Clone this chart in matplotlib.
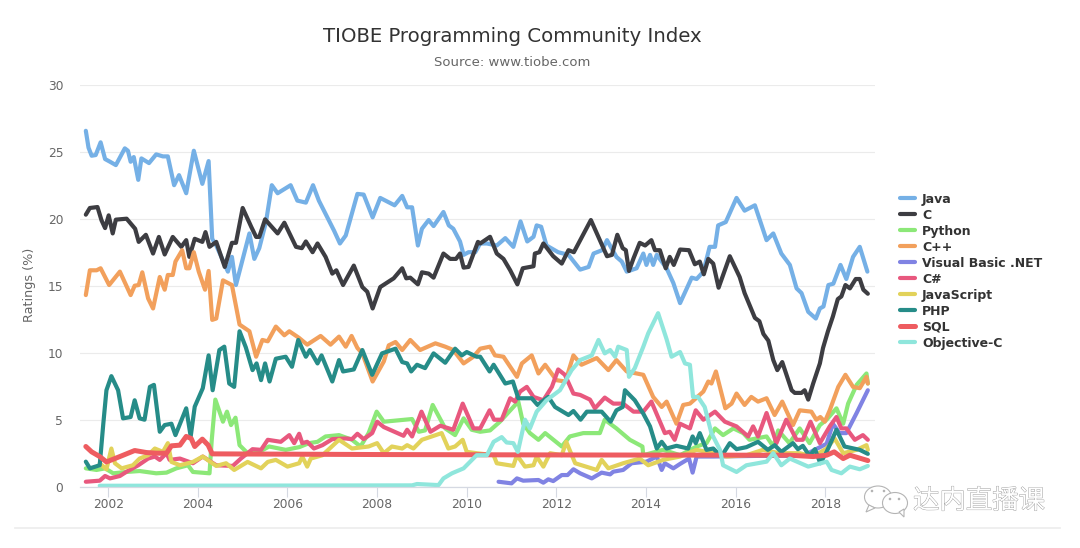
import matplotlib
matplotlib.use("Agg")
import matplotlib.patheffects as pe
import matplotlib.pyplot as plt
from matplotlib.patches import Ellipse, Polygon


TITLE = "TIOBE Programming Community Index"
SUBTITLE = "Source: www.tiobe.com"
Y_LABEL = "Ratings (%)"
X_TICKS = [2002, 2004, 2006, 2008, 2010, 2012, 2014, 2016, 2018]
Y_TICKS = [0, 5, 10, 15, 20, 25, 30]

# (year, rating) pairs
JAVA = [(2001.5,26.56),(2001.56,25.3),(2001.63,24.7),(2001.72,24.75),(2001.83,25.7),(2001.93,24.45),(2002.04,24.25),(2002.17,24.0),
        (2002.37,25.25),(2002.44,25.07),(2002.5,24.25),(2002.57,24.6),(2002.67,22.9),(2002.74,24.5),(2002.91,24.15),(2003.07,24.8),
        (2003.22,24.65),(2003.33,24.65),(2003.47,22.5),(2003.58,23.25),(2003.74,21.9),(2003.91,25.07),(2004.1,22.6),(2004.24,24.3),
        (2004.32,18.5),(2004.41,18),(2004.67,16.05),(2004.76,17.15),(2004.85,15.05),(2005.15,18.9),(2005.26,17),(2005.37,17.8),
        (2005.52,19.75),(2005.65,22.5),(2005.78,21.9),(2006.07,22.5),(2006.22,21.35),(2006.41,21.2),(2006.57,22.5),(2006.7,21.35),
        (2007.04,19.1),(2007.17,18.15),(2007.3,18.75),(2007.56,21.85),(2007.7,21.8),(2007.9,20.1),(2008.07,21.55),(2008.39,21),
        (2008.56,21.7),(2008.67,20.85),(2008.78,20.85),(2008.91,18),(2009,19.25),(2009.15,19.9),(2009.26,19.45),(2009.48,20.5),
        (2009.6,19.5),(2009.7,19.25),(2009.85,18.3),(2009.93,17.3),(2010.04,17.5),(2010.19,17.5),(2010.3,18.15),(2010.45,18.15),
        (2010.67,18),(2010.86,18.55),(2011.04,17.9),(2011.2,19.8),(2011.35,18.3),(2011.49,18.65),(2011.56,19.5),(2011.66,19.4),
        (2011.78,18),(2012.04,17.5),(2012.27,17.3),(2012.53,16.2),(2012.72,16.4),(2012.83,17.4),(2013.02,17.65),(2013.13,18.4),
        (2013.34,17.15),(2013.46,16.8),(2013.57,16.05),(2013.79,16.3),(2013.94,17.4),(2014.01,16.55),(2014.09,17.3),(2014.16,16.55),
        (2014.24,17.3),(2014.46,16.3),(2014.61,15.2),(2014.76,13.7),(2015.02,15.6),(2015.13,15.5),(2015.28,16.05),(2015.42,17.9),
        (2015.54,17.9),(2015.61,19.5),(2015.78,19.75),(2016.02,21.55),(2016.2,20.6),(2016.43,21),(2016.69,18.4),(2016.84,18.9),
        (2017.02,17.4),(2017.21,16.55),(2017.36,14.8),(2017.47,14.45),(2017.62,13.05),(2017.79,12.55),(2017.88,13.3),(2017.96,13.45),
        (2018.07,15.05),(2018.18,15.15),(2018.34,16.55),(2018.47,15.5),(2018.62,17.15),(2018.77,17.9),(2018.94,16.05)]

C_LANG = [(2001.5,20.3),(2001.59,20.8),(2001.76,20.87),(2001.85,19.88),(2001.93,19.3),(2002.01,20.25),(2002.1,18.9),(2002.17,19.93),
          (2002.41,20),(2002.6,19.25),(2002.68,18.27),(2002.84,18.8),(2003,17.4),(2003.13,18.64),(2003.26,17.33),(2003.44,18.64),
          (2003.63,17.9),(2003.74,18.4),(2003.81,17.15),(2003.93,18.5),(2004.1,18.27),(2004.17,19),(2004.26,17.9),(2004.41,18.27),
          (2004.6,16.4),(2004.76,18.2),(2004.85,18.2),(2005,20.8),(2005.19,19.4),(2005.3,18.64),(2005.37,18.64),(2005.5,19.95),
          (2005.78,18.9),(2005.93,19.7),(2006.19,17.9),(2006.32,17.8),(2006.41,18.3),(2006.56,17.5),(2006.67,18.15),(2006.85,17.15),
          (2007,15.9),(2007.09,16.15),(2007.24,15.05),(2007.48,16.5),(2007.67,14.9),(2007.78,14.55),(2007.9,13.3),(2008.07,14.9),
          (2008.37,15.55),(2008.56,16.3),(2008.65,15.55),(2008.74,15.6),(2008.91,15.1),(2009,16),(2009.15,15.9),(2009.26,15.6),
          (2009.48,17.4),(2009.63,17),(2009.76,17),(2009.85,17.4),(2009.93,16.35),(2010.04,16.4),(2010.25,18.27),(2010.3,18.15),
          (2010.52,18.65),(2010.67,17.4),(2010.82,17),(2010.97,16.15),(2011.13,15.1),(2011.25,16.3),(2011.49,16.45),(2011.52,17.4),
          (2011.62,17.5),(2011.71,18.15),(2011.93,17.2),(2012.12,16.65),(2012.27,17.65),(2012.39,17.5),(2012.77,19.9),(2013.13,17.2),
          (2013.24,17.3),(2013.36,18.8),(2013.48,17.8),(2013.55,17.65),(2013.62,16.1),(2013.72,17.03),(2013.86,18.2),(2013.98,18),
          (2014.12,18.4),(2014.2,17.65),(2014.31,17.65),(2014.44,16.3),(2014.53,17.15),(2014.62,16.55),(2014.76,17.7),(2014.96,17.65),
          (2015.09,16.6),(2015.2,16.8),(2015.29,15.85),(2015.39,17),(2015.5,16.65),(2015.62,14.85),(2015.87,17.2),(2016.09,15.65),
          (2016.2,14.45),(2016.43,12.6),(2016.53,12.35),(2016.62,11.4),(2016.73,10.9),(2016.84,9.45),(2016.93,8.7),(2017.04,9.3),
          (2017.25,7.2),(2017.32,7),(2017.47,7),(2017.54,7.2),(2017.62,6.5),(2017.73,7.7),(2017.88,9.2),(2017.95,10.35),
          (2018.06,11.6),(2018.17,12.7),(2018.28,14),(2018.36,14.2),(2018.45,15.05),(2018.55,14.8),(2018.68,15.5),(2018.77,15.5),
          (2018.85,14.7),(2018.95,14.4)]

PYTHON = [(2001.5,1.37),(2001.74,1.25),(2001.93,1.37),(2002.11,1),(2002.41,1.1),(2002.7,1.17),(2003.07,1),(2003.3,1.05),
          (2003.52,1.37),(2003.78,1.6),(2003.89,1.1),(2004.26,1),(2004.31,3.5),(2004.39,6.5),(2004.56,4.85),(2004.65,5.6),
          (2004.74,4.6),(2004.84,5.15),(2004.93,3.1),(2005.11,2.5),(2005.37,2.6),(2005.59,3),(2005.96,2.75),(2006.26,2.95),
          (2006.48,3.25),(2006.67,3.35),(2006.85,3.75),(2007.15,3.85),(2007.44,3.5),(2007.63,3),(2007.81,4),(2007.99,5.6),
          (2008.15,4.85),(2008.78,5.05),(2008.93,4.1),(2009.07,4.2),(2009.24,6.1),(2009.52,4.35),(2009.74,3.85),(2009.93,5.1),
          (2010.11,4.25),(2010.3,4.1),(2010.52,4.2),(2010.74,4.85),(2011.15,6.35),(2011.26,4.7),(2011.41,4),(2011.6,3.5),
          (2011.75,4),(2012.12,3),(2012.3,3.75),(2012.6,4),(2012.97,4),(2013.08,5),(2013.34,4.35),(2013.64,3.5),
          (2013.92,3),(2013.94,2.35),(2014.38,2.75),(2014.76,2.35),(2015.13,3),(2015.35,3.25),(2015.54,4.35),(2015.72,3.85),
          (2015.95,4.35),(2016.17,4),(2016.31,3.5),(2016.69,3.75),(2016.84,3),(2016.95,4.2),(2017.2,3.25),(2017.43,4.35),
          (2017.65,3.25),(2017.88,4.6),(2018.03,5),(2018.25,5.85),(2018.4,4.7),(2018.51,6.2),(2018.7,7.6),(2018.92,8.45),(2018.95,7.7)]

CPP = [(2001.5,14.3),(2001.59,16.15),(2001.74,16.15),(2001.83,16.3),(2002.02,15.05),(2002.26,16.05),(2002.5,14.3),(2002.59,15),
       (2002.68,15.05),(2002.76,16),(2002.89,14.05),(2003,13.3),(2003.15,15.65),(2003.26,14.7),(2003.33,15.8),(2003.44,15.8),
       (2003.5,16.8),(2003.65,17.65),(2003.74,16.3),(2003.81,16.3),(2003.91,17.5),(2004.02,16.05),(2004.16,14.7),(2004.24,16.1),
       (2004.32,12.45),(2004.41,12.55),(2004.56,15.4),(2004.76,15.05),(2004.93,12.1),(2005.15,11.6),(2005.3,9.7),(2005.44,10.95),
       (2005.56,10.85),(2005.74,11.95),(2005.93,11.3),(2006.04,11.6),(2006.26,11.1),(2006.44,10.6),(2006.74,11.25),(2006.96,10.6),
       (2007.15,11.2),(2007.3,10.45),(2007.43,11.25),(2007.56,10.35),(2007.67,9.95),(2007.9,7.85),(2008.15,9.35),(2008.26,10.55),
       (2008.41,10.8),(2008.56,10.2),(2008.74,10.95),(2008.96,10.2),(2009.3,10.7),(2009.52,10.45),(2009.7,10.2),(2009.93,9.2),
       (2010.15,9.7),(2010.3,10.3),(2010.52,10.45),(2010.63,9.8),(2010.82,9.7),(2011.12,8.2),(2011.23,9.2),(2011.45,9.8),
       (2011.6,8.45),(2011.75,9.1),(2012,7.95),(2012.2,7.85),(2012.38,9.8),(2012.56,9.1),(2012.9,9.6),(2013.16,8.7),
       (2013.34,9.45),(2013.57,8.6),(2013.94,8.35),(2014.16,6.7),(2014.35,5.95),(2014.46,6.35),(2014.68,4.7),(2014.83,6.1),
       (2014.98,6.2),(2015.28,7.1),(2015.39,7.85),(2015.46,7.7),(2015.56,8.6),(2015.77,5.85),(2015.91,6.2),(2016.02,6.95),
       (2016.2,6.1),(2016.35,6.7),(2016.5,6.35),(2016.69,6.6),(2016.87,5.35),(2017.04,6.35),(2017.28,4.6),(2017.43,5.7),
       (2017.69,5.6),(2017.8,5),(2017.89,5.2),(2017.99,4.85),(2018.1,5.7),(2018.29,7.45),(2018.45,8.35),(2018.62,7.45),
       (2018.77,7.35),(2018.92,8.2),(2018.95,7.7)]

VB_NET = [(2010.71,0.37),(2011,0.25),(2011.12,0.62),(2011.26,0.45),(2011.6,0.5),(2011.71,0.3),(2011.82,0.55),(2011.93,0.42),
          (2012.12,0.87),(2012.25,0.87),(2012.38,1.3),(2012.53,1),(2012.79,0.62),(2013.01,1.05),(2013.2,0.92),(2013.27,1.12),
          (2013.49,1.25),(2013.68,1.75),(2014.01,1.87),(2014.24,2.25),(2014.35,1.25),(2014.42,1.75),(2014.61,1.37),(2014.76,1.7),
          (2014.96,2.1),(2015.04,1.05),(2015.13,2.25),(2015.5,2.25),(2016.5,2.3),(2017.5,2.3),(2018.03,3.2),(2018.17,4.7),
          (2018.32,4),(2018.47,4),(2018.7,5.5),(2018.95,7.2)]

C_SHARP = [(2001.5,0.37),(2001.81,0.45),(2001.93,0.8),(2002.04,0.62),(2002.26,0.8),(2002.4,1.1),(2002.67,1.6),(2002.89,2.1),
           (2003.04,2.25),(2003.15,2),(2003.3,2.5),(2003.37,2),(2003.6,2.1),(2003.89,1.75),(2004.11,2.25),(2004.41,1.6),
           (2004.78,1.55),(2004.96,2.1),(2005.22,2.8),(2005.41,2.75),(2005.56,3.5),(2005.85,3.35),(2006.04,3.85),(2006.15,3.25),
           (2006.26,3.95),(2006.33,3.25),(2006.44,3.35),(2006.59,2.85),(2006.78,3.1),(2007,3.55),(2007.3,3.6),(2007.44,3.55),
           (2007.56,3.95),(2007.7,3.55),(2007.89,4),(2008,4.85),(2008.15,4.45),(2008.59,3.8),(2008.67,4.25),(2008.78,3.75),
           (2008.99,5.6),(2009.19,4.1),(2009.41,4.55),(2009.7,4.25),(2009.91,6.2),(2010.15,4.35),(2010.3,4.35),(2010.51,5.7),
           (2010.61,5),(2010.78,5),(2010.97,6.6),(2011.08,6.35),(2011.19,7.1),(2011.34,7.45),(2011.49,6.7),(2011.71,6.45),
           (2011.9,7.45),(2012.04,8.75),(2012.19,8.35),(2012.38,6.95),(2012.53,6.85),(2012.75,6.5),(2012.86,5.85),(2013.08,6.65),
           (2013.27,6.2),(2013.49,6.2),(2013.72,5.6),(2013.94,5.6),(2014.12,6.35),(2014.42,4),(2014.53,4.1),(2014.64,3.5),
           (2014.76,4.7),(2014.98,4.35),(2015.11,5.7),(2015.28,5),(2015.54,5.6),(2015.76,4.85),(2016.02,4.5),(2016.28,3.75),
           (2016.39,4.5),(2016.5,3.75),(2016.69,5.5),(2016.91,3.25),(2017.13,5),(2017.36,3.5),(2017.5,3.5),(2017.67,4.85),
           (2017.88,3.25),(2018.1,4.5),(2018.25,5.2),(2018.36,4.35),(2018.47,4.35),(2018.66,3.5),(2018.84,3.85),(2018.95,3.5)]

JAVASCRIPT = [(2001.81,1.75),(2001.96,1.3),(2002.07,2.85),(2002.15,1.75),(2002.3,1.37),(2002.55,1.6),(2002.7,2.1),(2002.89,2.35),
              (2003.04,2.85),(2003.22,2.6),(2003.33,3.25),(2003.41,1.85),(2003.6,1.6),(2003.89,1.85),(2004.11,2.25),(2004.41,1.55),
              (2004.63,1.75),(2004.81,1.25),(2005.11,1.85),(2005.41,1.37),(2005.56,1.85),(2005.74,2),(2006,1.5),(2006.26,1.75),
              (2006.33,2.25),(2006.44,1.5),(2006.52,2.1),(2006.78,2.35),(2007.15,3.5),(2007.44,2.85),(2007.81,3),(2008,3.25),
              (2008.15,2.5),(2008.33,3),(2008.56,2.85),(2008.67,3.1),(2008.81,2.85),(2009,3.5),(2009.22,3.75),(2009.44,4),
              (2009.59,2.85),(2009.74,3),(2009.91,3.5),(2010,2.6),(2010.22,2.5),(2010.6,2.35),(2010.67,1.75),(2011.04,1.55),
              (2011.12,2.35),(2011.3,1.5),(2011.49,1.6),(2011.56,2.25),(2011.71,1.5),(2011.86,2.5),(2012.12,2.35),(2012.22,3.35),
              (2012.42,1.75),(2012.9,1.25),(2013.01,2),(2013.16,1.37),(2013.49,1.75),(2013.86,2.1),(2014.05,1.6),(2014.38,2),
              (2014.76,2.25),(2015.13,2.75),(2015.5,2.5),(2015.8,2.25),(2016.24,2.35),(2016.61,2.75),(2016.98,2.5),(2017.43,2.5),
              (2017.73,2.25),(2018.03,2.85),(2018.21,3.6),(2018.4,2.5),(2018.7,2.75),(2018.92,3.1),(2018.95,2.75)]

PHP = [(2001.5,1.87),(2001.59,1.37),(2001.81,1.6),(2001.89,4.7),(2001.96,7.2),(2002.07,8.25),(2002.22,7.2),(2002.33,5.1),
       (2002.5,5.2),(2002.59,6.45),(2002.7,5.1),(2002.81,5),(2002.93,7.45),(2003.02,7.6),(2003.15,4.1),(2003.26,4.6),
       (2003.41,4.7),(2003.5,3.85),(2003.74,5.85),(2003.84,3.75),(2003.93,5.97),(2004.11,7.35),(2004.24,9.8),(2004.33,7.2),
       (2004.48,10.2),(2004.59,10.45),(2004.7,7.7),(2004.81,7.45),(2004.93,11.6),(2005.07,10.4),(2005.22,8.7),(2005.31,9.2),
       (2005.41,7.95),(2005.5,9.2),(2005.6,7.85),(2005.74,9.55),(2005.96,9.7),(2006.1,8.95),(2006.24,10.95),(2006.41,9.7),
       (2006.5,10.2),(2006.67,9.2),(2006.76,9.8),(2007,7.85),(2007.15,9.45),(2007.24,8.6),(2007.48,8.75),(2007.67,10.2),
       (2007.89,8.35),(2008.11,9.95),(2008.41,10.3),(2008.56,9.3),(2008.67,9.2),(2008.76,8.6),(2008.89,9.1),(2009.07,8.85),
       (2009.26,9.95),(2009.52,9.25),(2009.74,10.3),(2009.89,9.8),(2010,10.05),(2010.22,9.7),(2010.3,9.7),(2010.51,8.6),
       (2010.6,9.1),(2010.86,7.7),(2011.03,7.85),(2011.15,6.6),(2011.45,6.6),(2011.58,6.1),(2011.82,6.7),(2011.97,5.95),
       (2012.27,5.35),(2012.38,5.65),(2012.54,5),(2012.68,5.6),(2013.01,5.6),(2013.21,4.85),(2013.34,5.7),(2013.48,5.95),
       (2013.53,7.2),(2013.75,6.45),(2013.94,5.45),(2014.09,4.5),(2014.24,2.85),(2014.35,3.35),(2014.46,2.85),(2014.68,3.05),
       (2014.94,2.85),(2015.04,3.75),(2015.11,3.25),(2015.2,4),(2015.35,2.75),(2015.5,2.85),(2015.68,2.25),(2015.87,3.25),
       (2016.02,2.8),(2016.24,2.95),(2016.5,3.35),(2016.72,2.75),(2016.87,3.1),(2017.02,2.6),(2017.28,3.25),(2017.39,2.8),
       (2017.5,3.05),(2017.65,2.3),(2017.77,2.8),(2017.89,1.75),(2018.03,2.6),(2018.25,4.25),(2018.43,3),(2018.77,2.75),(2018.95,2.45)]

SQL = [(2001.5,3),(2001.63,2.6),(2001.81,2.25),(2001.96,1.85),(2002.26,2.25),(2002.59,2.7),(2002.85,2.55),(2003.07,2.5),
       (2003.3,2.5),(2003.41,3.05),(2003.6,3.1),(2003.74,3.75),(2003.85,3.6),(2003.93,3),(2004.1,3.55),(2004.23,3.1),
       (2004.32,2.45),(2008,2.4),(2012,2.37),(2016.69,2.35),(2017.2,2.35),(2017.73,2.25),(2018.03,2.35),(2018.2,2.6),
       (2018.4,2.1),(2018.55,2.35),(2018.95,1.95)]

OBJECTIVE_C = [(2001.81,0.07),(2005,0.08),(2008.78,0.1),(2008.89,0.2),(2009.37,0.12),(2009.48,0.62),(2009.67,1),(2009.74,1.1),
               (2009.93,1.37),(2010.22,2.35),(2010.45,2.35),(2010.6,3.35),(2010.78,3.7),(2010.89,3.3),(2011.04,3.25),(2011.14,2.6),
               (2011.3,5),(2011.41,4.35),(2011.56,5.6),(2011.78,6.45),(2012.08,7.2),(2012.34,8.7),(2012.53,9.45),(2012.79,9.8),
               (2012.94,10.95),(2013.08,9.95),(2013.2,10.2),(2013.31,9.7),(2013.38,10.45),(2013.57,10.2),(2013.62,8.2),(2013.75,8.85),
               (2013.94,10.45),(2014.05,11.45),(2014.27,12.95),(2014.46,11),(2014.57,9.7),(2014.76,10.05),(2014.87,9.2),(2014.98,9.1),
               (2015.05,6.7),(2015.16,6.7),(2015.31,5.95),(2015.46,4),(2015.65,2.75),(2015.72,1.6),(2016.02,1.1),(2016.24,1.6),
               (2016.69,1.87),(2016.84,2.5),(2017.02,1.6),(2017.21,2.1),(2017.62,1.5),(2018.03,1.87),(2018.14,1.25),(2018.36,1),
               (2018.55,1.5),(2018.77,1.3),(2018.95,1.55)]

SERIES = [
    ("Java", JAVA, "#75b0e6", 3.0),
    ("C", C_LANG, "#3d3d42", 3.0),
    ("Python", PYTHON, "#8ce878", 3.0),
    ("C++", CPP, "#f2a05c", 3.0),
    ("Visual Basic .NET", VB_NET, "#8083e3", 3.0),
    ("C#", C_SHARP, "#e8587e", 3.0),
    ("JavaScript", JAVASCRIPT, "#e2d25a", 3.0),
    ("PHP", PHP, "#268c88", 3.0),
    ("SQL", SQL, "#ee5c60", 3.6),
    ("Objective-C", OBJECTIVE_C, "#8fe6dc", 3.0),
]

WIDTH, HEIGHT = 1080, 548

fig = plt.figure(figsize=(WIDTH / 100, HEIGHT / 100), dpi=100, facecolor="white")

# plot area in pixels: x 80..875, y 84.7..486.7
ax = fig.add_axes([80 / WIDTH, 1 - 486.7 / HEIGHT, 795 / WIDTH, 402 / HEIGHT])
ax.set_xlim(2001.37, 2019.11)
ax.set_ylim(0, 30)
ax.set_facecolor("none")

handles = []
for name, points, color, width in SERIES:
    years = [p[0] for p in points]
    ratings = [p[1] for p in points]
    line, = ax.plot(years, ratings, color=color, lw=width, label=name, clip_on=False,
                    solid_joinstyle="round", solid_capstyle="round")
    handles.append(line)

ax.set_xticks(X_TICKS)
ax.set_yticks(Y_TICKS)
ax.tick_params(axis="x", length=7, width=0.8, color="#d5d9e2", labelcolor="#666666", labelsize=8.8, pad=1)
ax.tick_params(axis="y", length=0, labelcolor="#666666", labelsize=8.8, pad=12)
ax.grid(axis="y", color="#ebebeb", lw=0.8)
ax.set_axisbelow(True)
for side in ["top", "right", "left"]:
    ax.spines[side].set_visible(False)
ax.spines["bottom"].set_color("#d5d9e2")
ax.spines["bottom"].set_linewidth(0.9)

leg = fig.legend(handles=handles, loc="upper left", bbox_to_anchor=(899.5 / WIDTH, 1 - 192.5 / HEIGHT),
                 frameon=False, prop={"size": 9, "weight": "bold"}, labelcolor="#333333",
                 handlelength=1.2, handletextpad=0.6, labelspacing=0.24, borderpad=0, borderaxespad=0)

# overlay in pixel coordinates for titles, footer rule and watermark
px = fig.add_axes([0, 0, 1, 1], facecolor="none")
px.set_xlim(0, WIDTH)
px.set_ylim(HEIGHT, 0)
px.axis("off")

px.text(512, 36, TITLE, ha="center", va="center", fontsize=14.2, color="#333333")
px.text(512, 62, SUBTITLE, ha="center", va="center", fontsize=9.5, color="#666666")
px.text(30, 285, Y_LABEL, ha="center", va="center", rotation=90, fontsize=9.2, color="#666666")
px.plot([15, 1060], [528, 528], color="#ececec", lw=1.2)

# watermark
edge = "#b4b4b4"
px.add_patch(Ellipse((878, 497), 27, 22, fc="white", ec=edge, lw=0.8))
px.add_patch(Polygon([(869, 505), (866, 512), (875, 508)], closed=True, fc="white", ec=edge, lw=0.8))
px.add_patch(Ellipse((895, 503), 25, 21, fc="white", ec=edge, lw=0.8))
px.add_patch(Polygon([(899, 512), (904, 517), (904, 509)], closed=True, fc="white", ec=edge, lw=0.8))
for cx, cy in [(872, 491), (884, 491), (890, 499), (899, 499)]:
    px.add_patch(Ellipse((cx, cy), 2.6, 2.6, fc=edge, ec="none"))
px.text(979, 501, "达内直播课", ha="center", va="center", fontsize=19, color="white",
        family=["Noto Sans CJK SC", "DejaVu Sans"],
        path_effects=[pe.withStroke(linewidth=0.6, foreground="#999999")])

fig.savefig("out.png", dpi=100)
